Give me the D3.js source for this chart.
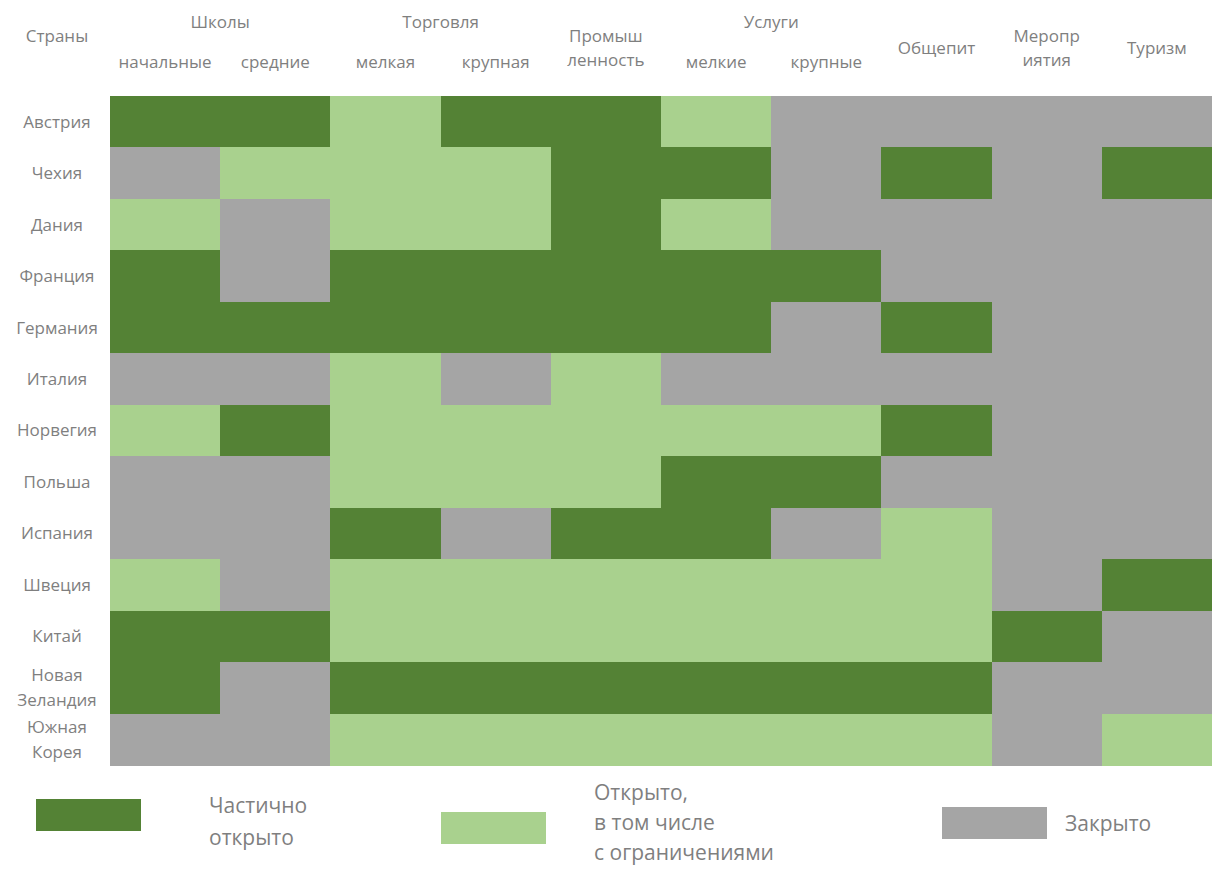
<!DOCTYPE html>
<html>
<head>
<meta charset="utf-8">
<script src="https://cdn.jsdelivr.net/npm/d3@7"></script>
<style>
  body { margin: 0; background: #fff; }
  text { font-family: "Open Sans", "Noto Sans", sans-serif; fill: #7f7f7f; }
</style>
</head>
<body>
<div id="chart"></div>
<script>
const countries = [["Австрия"], ["Чехия"], ["Дания"], ["Франция"], ["Германия"], ["Италия"],
    ["Норвегия"], ["Польша"], ["Испания"], ["Швеция"], ["Китай"],
    ["Новая", "Зеландия"], ["Южная", "Корея"]];

const columns = ["sch1", "sch2", "tr1", "tr2", "ind", "srv1", "srv2", "food", "events", "tour"];

// column sub labels (second header line)
const columnLabels = [["начальные"], ["средние"], ["мелкая"], ["крупная"], ["Промыш", "ленность"],
    ["мелкие"], ["крупные"], ["Общепит"], ["Меропр", "иятия"], ["Туризм"]];

const groups = [
    { name: "Школы", from: 0, to: 1 },
    { name: "Торговля", from: 2, to: 3 },
    { name: "Услуги", from: 5, to: 6 }
];

// D = частично открыто, L = открыто, G = закрыто
const statusRows = [
    "DDLDDLGGGG",
    "GLLLDDGDGD",
    "LGLLDLGGGG",
    "DGDDDDDGGG",
    "DDDDDDGDGG",
    "GGLGLGGGGG",
    "LDLLLLLDGG",
    "GGLLLDDGGG",
    "GGDGDDGLGG",
    "LGLLLLLLGD",
    "DDLLLLLLDG",
    "DGDDDDDDGG",
    "GGLLLLLLGL"
];

const statusKeys = ["D", "L", "G"];
const statusColors = ["#548235", "#a9d18e", "#a5a5a5"];
const legendLabels = [["Частично", "открыто"], ["Открыто,", "в том числе", "с ограничениями"], ["Закрыто"]];

const width = 1212, height = 870;
const svg = d3.select("#chart").append("svg")
    .attr("width", width).attr("height", height);

const x = d3.scaleBand().domain(columns).range([110, 1212]);
const y = d3.scaleBand().domain(d3.range(countries.length)).range([96, 765]);
const color = d3.scaleOrdinal().domain(statusKeys).range(statusColors);

const cells = [];
statusRows.forEach((row, i) => {
    row.split("").forEach((s, j) => cells.push({ row: i, col: columns[j], s }));
});

svg.append("g")
    .attr("shape-rendering", "crispEdges")
    .selectAll("rect")
    .data(cells)
    .join("rect")
    .attr("x", d => x(d.col))
    .attr("y", d => y(d.row))
    .attr("width", x.bandwidth() + 1)
    .attr("height", y.bandwidth() + 1)
    .attr("fill", d => color(d.s));

// row labels
const rowLab = svg.append("g").selectAll("text")
    .data(countries)
    .join("text")
    .attr("text-anchor", "middle")
    .attr("font-size", 17)
    .attr("transform", (d, i) => `translate(57,${y(i) + y.bandwidth() / 2})`);
rowLab.selectAll("tspan")
    .data(d => d.map((t, k) => ({ t, k, n: d.length })))
    .join("tspan")
    .attr("x", 0)
    .attr("y", d => (d.k - (d.n - 1) / 2) * 25)
    .attr("dy", "0.35em")
    .text(d => d.t);

// header
const hdr = svg.append("g").attr("font-size", 17);
hdr.append("text").attr("x", 57).attr("y", 36).attr("dy", "0.35em")
    .attr("text-anchor", "middle").text("Страны");

hdr.selectAll(".grp")
    .data(groups)
    .join("text")
    .attr("class", "grp")
    .attr("text-anchor", "middle")
    .attr("x", d => (x(columns[d.from]) + x(columns[d.to]) + x.bandwidth()) / 2)
    .attr("y", 22).attr("dy", "0.35em")
    .text(d => d.name);

const colLab = hdr.selectAll(".col")
    .data(columnLabels)
    .join("text")
    .attr("class", "col")
    .attr("text-anchor", "middle")
    .attr("transform", (d, j) => {
        const inGroup = groups.some(g => j >= g.from && j <= g.to);
        const cy = inGroup ? 62 : 48;
        return `translate(${x(columns[j]) + x.bandwidth() / 2},${cy})`;
    });
colLab.selectAll("tspan")
    .data(d => d.map((t, k) => ({ t, k, n: d.length })))
    .join("tspan")
    .attr("x", 0)
    .attr("y", d => (d.k - (d.n - 1) / 2) * 24)
    .attr("dy", "0.35em")
    .text(d => d.t);

// legend
const legendPos = [
    { rx: 36, ry: 799, tx: 209, ty: 806, lh: 32 },
    { rx: 441, ry: 812, tx: 594, ty: 793, lh: 30 },
    { rx: 942, ry: 807, tx: 1065, ty: 824, lh: 32 }
];
const leg = svg.append("g").selectAll("g")
    .data(statusKeys)
    .join("g");
leg.append("rect")
    .attr("x", (d, i) => legendPos[i].rx)
    .attr("y", (d, i) => legendPos[i].ry)
    .attr("width", 105).attr("height", 32)
    .attr("fill", d => color(d));
leg.append("text")
    .attr("font-size", 21)
    .selectAll("tspan")
    .data((d, i) => legendLabels[i].map((t, k) => ({ t, k, i })))
    .join("tspan")
    .attr("x", d => legendPos[d.i].tx)
    .attr("y", d => legendPos[d.i].ty + d.k * legendPos[d.i].lh)
    .attr("dy", "0.35em")
    .text(d => d.t);
</script>
</body>
</html>
